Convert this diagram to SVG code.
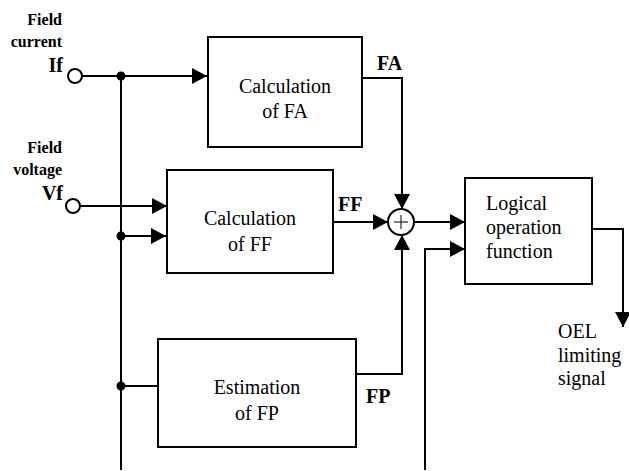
<svg xmlns="http://www.w3.org/2000/svg" width="629" height="471" viewBox="0 0 629 471">
<style>
.box{fill:#fff;stroke:#000;stroke-width:2}
.ln{fill:none;stroke:#000;stroke-width:2}
.t{font-family:"Liberation Serif","Times New Roman",serif;font-size:20px;fill:#000}
.lb{font-family:"Liberation Serif","Times New Roman",serif;font-size:20px;font-weight:bold;fill:#000}
.sm{font-family:"Liberation Serif","Times New Roman",serif;font-size:16px;font-weight:bold;fill:#000}
</style>
<defs>
<marker id="ah" viewBox="0 0 15 16" refX="15" refY="8" markerWidth="15" markerHeight="16" markerUnits="userSpaceOnUse" orient="auto">
<path d="M0,0 L15,8 L0,16 Z" fill="#000"/>
</marker>
</defs>
<g id="inputs">
<text class="sm" x="62" y="25" text-anchor="end">Field</text>
<text class="sm" x="62" y="47" text-anchor="end">current</text>
<text class="lb" x="63" y="72" text-anchor="end">If</text>
<circle cx="75" cy="76" r="7" fill="#fff" stroke="#000" stroke-width="2"/>
<text class="sm" x="62" y="153" text-anchor="end">Field</text>
<text class="sm" x="62" y="175" text-anchor="end">voltage</text>
<text class="lb" x="63" y="200" text-anchor="end">Vf</text>
<circle cx="73" cy="206" r="7" fill="#fff" stroke="#000" stroke-width="2"/>
</g>
<g id="connectors">
<line class="ln" x1="82" y1="76" x2="207" y2="76" marker-end="url(#ah)"/>
<line class="ln" x1="121" y1="76" x2="121" y2="470"/>
<circle cx="121" cy="76" r="4.5" fill="#000"/>
<line class="ln" x1="80" y1="206" x2="167" y2="206" marker-end="url(#ah)"/>
<line class="ln" x1="121" y1="236" x2="166" y2="236" marker-end="url(#ah)"/>
<circle cx="121" cy="236" r="4.5" fill="#000"/>
<line class="ln" x1="121" y1="386" x2="158" y2="386"/>
<circle cx="121" cy="386" r="4.5" fill="#000"/>
<polyline class="ln" points="362,78 402,78 402,209" marker-end="url(#ah)"/>
<line class="ln" x1="333" y1="222" x2="388" y2="222" marker-end="url(#ah)"/>
<polyline class="ln" points="353,374 402,374 402,235" marker-end="url(#ah)"/>
<line class="ln" x1="414" y1="222" x2="465" y2="222" marker-end="url(#ah)"/>
<polyline class="ln" points="425,470 425,249 465,249" marker-end="url(#ah)"/>
<polyline class="ln" points="592,229 623,229 623,327" marker-end="url(#ah)"/>
<text class="lb" x="377" y="70">FA</text>
<text class="lb" x="338" y="211">FF</text>
<text class="lb" x="366" y="403">FP</text>
</g>
<g id="calcFA">
<rect class="box" x="208" y="37" width="154" height="110"/>
<text class="t" x="285" y="93" text-anchor="middle">Calculation</text>
<text class="t" x="285" y="118" text-anchor="middle">of FA</text>
</g>
<g id="calcFF">
<rect class="box" x="167" y="170" width="166" height="103"/>
<text class="t" x="250" y="225" text-anchor="middle">Calculation</text>
<text class="t" x="250" y="251" text-anchor="middle">of FF</text>
</g>
<g id="sum">
<circle cx="401" cy="222" r="13" fill="#fff" stroke="#000" stroke-width="2"/>
<path d="M401,215 V229 M394,222 H408" stroke="#000" stroke-width="1" fill="none"/>
</g>
<g id="logic">
<rect class="box" x="465" y="178" width="127" height="106"/>
<text class="t" x="486" y="210">Logical</text>
<text class="t" x="486" y="234">operation</text>
<text class="t" x="486" y="258">function</text>
</g>
<g id="estFP">
<rect class="box" x="158" y="339" width="198" height="108"/>
<text class="t" x="257" y="394" text-anchor="middle">Estimation</text>
<text class="t" x="257" y="420" text-anchor="middle">of FP</text>
</g>
<g id="output">
<text class="t" x="558" y="338">OEL</text>
<text class="t" x="558" y="362">limiting</text>
<text class="t" x="558" y="385">signal</text>
</g>
</svg>
